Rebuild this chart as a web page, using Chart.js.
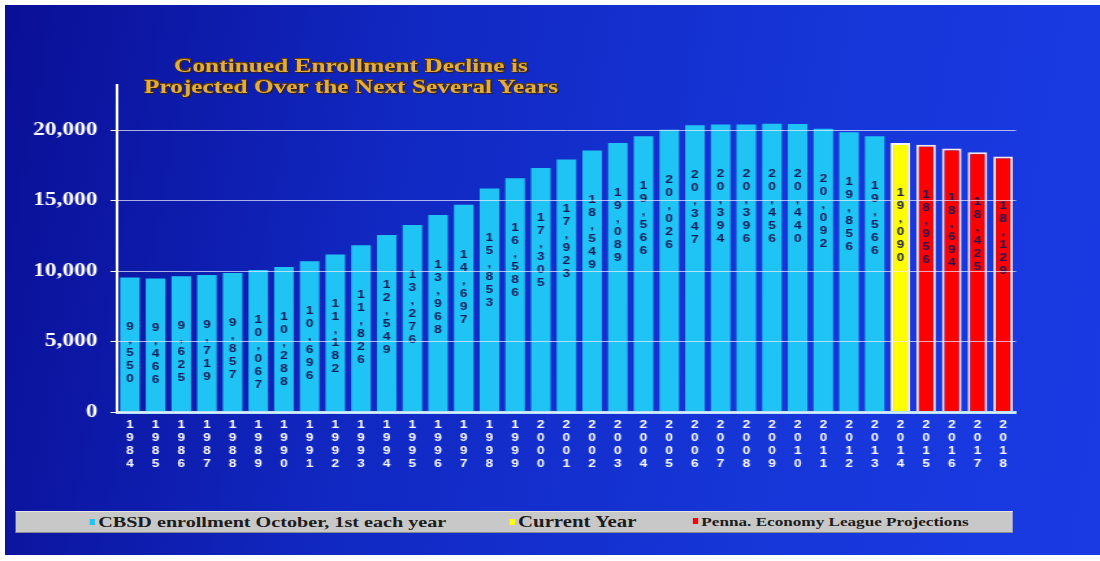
<!DOCTYPE html>
<html>
<head>
<meta charset="utf-8">
<title>CBSD enrollment</title>
<script src="https://cdn.jsdelivr.net/npm/chart.js@4/dist/chart.umd.min.js"></script>
<style>
html, body { margin: 0; padding: 0; background: #fff; }
body { width: 1100px; height: 561px; overflow: hidden; position: relative; }
#panel {
    position: absolute; left: 5px; top: 5px; width: 1095px; height: 550px;
    background: linear-gradient(100deg, #0a0f95 0%, #1128c2 35%, #1636d8 70%, #1a3be4 100%);
}
/* everything on the slide is drawn a bit wide, so the stage is stretched sideways */
#stage {
    position: absolute; left: 0; top: 0; width: 846px; height: 561px;
    transform: scaleX(1.3); transform-origin: 0 0;
}
#graph { position: absolute; left: 0; top: 0; }
#titulo {
    position: absolute; left: 70px; top: 55px; width: 400px;
    text-align: center; color: #e2ad3a;
    font: bold 19.5px "Liberation Serif", "DejaVu Serif", serif; line-height: 21px;
    text-shadow: 1px 1px 1px #3a2200, -0.6px -0.6px 0 #6a4200, 0.6px -0.6px 0 #6a4200;
}
#leyenda {
    position: absolute; left: 11.5px; top: 511px; width: 767px; height: 22px;
    background: #c8c8c8; border-top: 1px solid #e4e4e4; border-bottom: 1px solid #8c8c8c;
    box-sizing: border-box;
}
#leyenda .item {
    position: absolute; top: 1px; white-space: nowrap;
    font-family: "Liberation Serif", serif; font-weight: bold; color: #1c1c1c; line-height: 18px;
}
#leyenda .marca {
    display: inline-block; width: 4px; height: 6px; margin-right: 3px; vertical-align: 2px;
}
</style>
</head>
<body>
<div id="panel"></div>
<div id="stage">
    <canvas id="graph" width="846" height="561"></canvas>
    <div id="titulo">Continued Enrollment Decline is<br>Projected Over the Next Several Years</div>
    <div id="leyenda"></div>
</div>
<script>
let anios = [1984, 1985, 1986, 1987, 1988, 1989, 1990, 1991, 1992, 1993,
    1994, 1995, 1996, 1997, 1998, 1999, 2000, 2001, 2002, 2003,
    2004, 2005, 2006, 2007, 2008, 2009, 2010, 2011, 2012, 2013,
    2014, 2015, 2016, 2017, 2018];

// October 1st enrollment, 1984-2013
let inscritos = [9550, 9466, 9625, 9719, 9857, 10067, 10288, 10696, 11182, 11826,
    12549, 13276, 13968, 14697, 15853, 16586, 17305, 17923, 18549, 19089,
    19566, 20026, 20347, 20394, 20396, 20456, 20440, 20092, 19856, 19566];
// current year, 2014
let anioActual = [19090];
// Penna. Economy League projections, 2015-2018
let proyeccion = [18956, 18694, 18425, 18129];

let yTicks = [0, 5000, 10000, 15000, 20000];

let nInscritos = inscritos.length;
let nActual = anioActual.length;

let serieInscritos = anios.map((a, i) => i < nInscritos ? inscritos[i] : null);
let serieActual = anios.map((a, i) => (i >= nInscritos && i < nInscritos + nActual) ? anioActual[i - nInscritos] : null);
let serieProyeccion = anios.map((a, i) => i >= nInscritos + nActual ? proyeccion[i - nInscritos - nActual] : null);

const fmt = v => v.toLocaleString('en-US');

// value written down inside each bar, one character per line
const etiquetasBarra = {
    id: 'etiquetasBarra',
    afterDatasetsDraw(chart) {
        const ctx = chart.ctx;
        ctx.save();
        ctx.font = 'bold 10.5px "Liberation Sans", Arial, sans-serif';
        ctx.fillStyle = '#141a5a';
        ctx.textAlign = 'center';
        ctx.textBaseline = 'middle';
        chart.data.datasets.forEach((ds, i) => {
            chart.getDatasetMeta(i).data.forEach((barra, j) => {
                const v = ds.data[j];
                if (v == null) return;
                fmt(v).split('').forEach((c, k) => {
                    ctx.fillText(c, barra.x, barra.y + 50 + k * 13);
                });
            });
        });
        ctx.restore();
    }
};

var ctx = document.getElementById('graph');

const config = {
    type: 'bar',
    data: {
        labels: anios.map(a => String(a).split('')),
        datasets: [{
            label: 'CBSD enrollment October, 1st each year',
            data: serieInscritos,
            backgroundColor: '#20c4f4',
            borderWidth: 0
        }, {
            label: 'Current Year',
            data: serieActual,
            backgroundColor: '#ffff00',
            borderColor: '#fff6f6',
            borderWidth: 2
        }, {
            label: 'Penna. Economy League Projections',
            data: serieProyeccion,
            backgroundColor: '#ff0000',
            borderColor: '#ffe8ec',
            borderWidth: 2
        }]
    },
    options: {
        responsive: false,
        animation: false,
        categoryPercentage: 1,
        barPercentage: 0.76,
        layout: { padding: { top: 85, right: 64.5, bottom: 89, left: 0 } },
        plugins: {
            legend: { display: false },
            tooltip: { enabled: false }
        },
        scales: {
            x: {
                stacked: true,
                grid: { display: false, drawTicks: false },
                border: { color: '#b4e2f6', width: 3, z: 1 },
                ticks: {
                    color: '#ffffff',
                    font: { family: '"Liberation Sans", Arial, sans-serif', weight: 'bold', size: 10.5, lineHeight: 1.24 },
                    padding: 7,
                    autoSkip: false,
                    maxRotation: 0
                },
                afterFit: s => { s.height = 60; }
            },
            y: {
                stacked: true,
                min: 0,
                max: 23200,
                afterBuildTicks: s => { s.ticks = yTicks.map(v => ({ value: v })); },
                grid: { color: 'rgba(240,240,255,0.7)', lineWidth: 1, z: 1, tickLength: 5, tickColor: '#ffffff' },
                border: { color: '#ffffff', width: 2, z: 1 },
                ticks: {
                    color: '#ffffff',
                    font: { family: '"Liberation Serif", "DejaVu Serif", serif', weight: 'bold', size: 18 },
                    padding: 10,
                    callback: v => fmt(v)
                },
                afterFit: s => { s.width = 90; }
            }
        }
    },
    plugins: [etiquetasBarra]
};

var grafico = new Chart(ctx, config);

// legend strip along the bottom, built from the datasets
let leyenda = document.getElementById('leyenda');
let posiciones = [57, 380, 521];
let tamanos = [15.5, 16, 13.2];
grafico.data.datasets.forEach((ds, i) => {
    let item = document.createElement('span');
    item.className = 'item';
    item.style.left = posiciones[i] + 'px';
    item.style.fontSize = tamanos[i] + 'px';
    let marca = document.createElement('span');
    marca.className = 'marca';
    marca.style.background = ds.backgroundColor;
    item.appendChild(marca);
    item.appendChild(document.createTextNode(ds.label));
    leyenda.appendChild(item);
});
</script>
</body>
</html>
